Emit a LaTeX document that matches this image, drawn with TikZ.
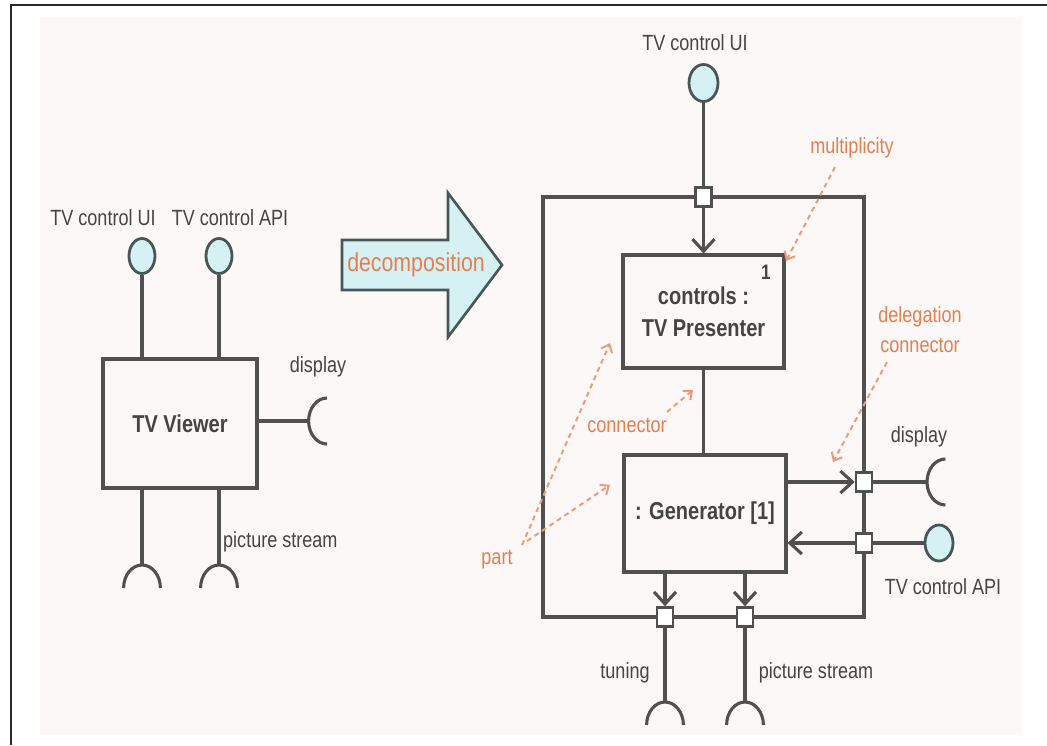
\documentclass[tikz,border=0pt]{standalone}
\usepackage{fontspec}
\setmainfont{Liberation Sans}[FakeStretch=0.82]
\usetikzlibrary{arrows.meta,shapes.geometric}
\definecolor{bgc}{RGB}{252,248,247}
\definecolor{linec}{RGB}{80,80,80}
\definecolor{textc}{RGB}{68,68,68}
\definecolor{cyanc}{RGB}{214,241,243}
\definecolor{circc}{RGB}{72,86,88}
\definecolor{orc}{RGB}{229,127,80}
\definecolor{ordash}{RGB}{238,155,120}
\definecolor{framec}{RGB}{40,40,40}
\begin{document}
\begin{tikzpicture}[x=1pt,y=-1pt,
  conn/.style={draw=linec, line width=3.1pt},
  tipv/.style={-{Straight Barb[length=12pt,width=22pt]}},
  partbox/.style={draw=linec, line width=3.1pt, rectangle, inner sep=0pt, text=textc,
    font=\bfseries\fontsize{24.4}{32}\selectfont, align=center},
  lolli/.style={ellipse, draw=circc, fill=cyanc, line width=2.8pt, minimum width=28pt,
    minimum height=36pt, inner sep=0pt},
  port/.style={rectangle, draw=linec, fill=white, line width=2.6pt, minimum width=16pt,
    minimum height=19pt, inner sep=0pt},
  lbl/.style={text=textc, font=\fontsize{22}{26}\selectfont, inner sep=0pt},
  ann/.style={text=orc, font=\fontsize{22}{30}\selectfont, inner sep=0pt, align=center},
  annline/.style={draw=ordash, line width=2pt, dash pattern=on 5pt off 4pt,
    -{Straight Barb[length=7pt,width=12pt]}},
]
\useasboundingbox (0,0) rectangle (1047,745);
% background and frame
\fill[bgc] (40,17) rectangle (1022,735);
\draw[framec, line width=1.6pt] (1047,5) -- (11,5) -- (11,745);

% ---------------- left: TV Viewer ----------------
\node[lbl] (lUI) at (103,218) {TV control UI};
\node[lbl] (lAPI) at (230,218) {TV control API};
\node[lolli, minimum width=26pt, minimum height=35pt] (c1) at (142,256) {};
\node[lolli, minimum width=26pt, minimum height=35pt] (c2) at (219,256) {};
\node[partbox, minimum width=154pt, minimum height=129pt] (viewer) at (180,423.5) {TV Viewer};
\draw[conn] (c1.south) -- (c1.south |- viewer.north);
\draw[conn] (c2.south) -- (c2.south |- viewer.north);
\node[lbl] (lDisp) at (318,367) {display};
\coordinate (dL) at (308.6,421);
\draw[conn] (viewer.east |- dL) -- (dL);
\draw[conn] (dL) ++(18.4,23) arc[start angle=90, end angle=270, x radius=18.4, y radius=23];
\coordinate (s1) at (142,565);
\coordinate (s2) at (219,565);
\draw[conn] (viewer.south -| s1) -- (s1);
\draw[conn] (viewer.south -| s2) -- (s2);
\draw[conn] (s1) ++(-18.4,23) arc[start angle=180, end angle=360, x radius=18.4, y radius=23];
\draw[conn] (s2) ++(-18.4,23) arc[start angle=180, end angle=360, x radius=18.4, y radius=23];
\node[lbl, anchor=west] (lPS) at (223,542) {picture stream};

% ---------------- decomposition arrow ----------------
\draw[fill=cyanc, draw=circc, line width=2.6pt, line join=miter]
  (342,240) -- (448,240) -- (448,193) -- (502,265) -- (448,337) -- (448,290) -- (342,290) -- cycle;
\node[ann, font=\fontsize{26}{30}\selectfont] (decL) at (416,265) {decomposition};

% ---------------- right: decomposed ----------------
\node[lbl] (rUI) at (695,43) {TV control UI};
\node[lolli, minimum width=29pt, minimum height=37pt] (cTop) at (703.5,83) {};
\node[draw=linec, line width=3.1pt, rectangle, minimum width=321pt, minimum height=420pt, inner sep=0pt] (outer) at (703.5,407) {};
\node[partbox, minimum width=161pt, minimum height=113pt] (pres) at (703.5,311.5) {controls :\\TV Presenter};
\node[text=textc, font=\bfseries\fontsize{21}{24}\selectfont, inner sep=0pt] (mult) at (766,272) {1};
\node[partbox, minimum width=162pt, minimum height=117pt] (gen) at (705,513.5) {: Generator [1]};

\node[port] (pTop) at (703.5,197) {};
\node[port] (pDisp) at (864,482) {};
\node[port] (pApi) at (864,543) {};
\node[port] (pTun) at (665,617) {};
\node[port] (pPic) at (745,617) {};

\draw[conn] (cTop.south) -- (pTop.north);
\draw[conn, tipv] (pTop.south) -- (pres.north);
\draw[conn] (pres.south) -- (pres.south |- gen.north);
\draw[conn, tipv] (gen.east |- pDisp) -- (pDisp.west);
\draw[conn, tipv] (pApi.west) -- (gen.east |- pApi);
\draw[conn, tipv] (gen.south -| pTun) -- (pTun.north);
\draw[conn, tipv] (gen.south -| pPic) -- (pPic.north);

% display socket
\coordinate (dR) at (927,482);
\draw[conn] (pDisp.east) -- (dR);
\draw[conn] (dR) ++(18.4,23) arc[start angle=90, end angle=270, x radius=18.4, y radius=23];
\node[lbl] (rDisp) at (919,437) {display};
% API lollipop
\node[lolli] (cApi) at (939,543) {};
\draw[conn] (pApi.east) -- (cApi.west);
\node[lbl] (rAPI) at (943,587) {TV control API};
% bottom sockets
\coordinate (tS) at (665,702);
\coordinate (pS) at (745,702);
\draw[conn] (pTun.south) -- (tS);
\draw[conn] (pPic.south) -- (pS);
\draw[conn] (tS) ++(-18.4,23) arc[start angle=180, end angle=360, x radius=18.4, y radius=23];
\draw[conn] (pS) ++(-18.4,23) arc[start angle=180, end angle=360, x radius=18.4, y radius=23];
\node[lbl] (rTun) at (625,673) {tuning};
\node[lbl] (rPS) at (816,673) {picture stream};

% ---------------- annotations ----------------
\node[ann] (multL) at (852,148) {multiplicity};
\coordinate (multS) at (835,167);
\coordinate (multE) at (786,261);
\draw[annline] (multS) -- (multE);

\node[ann] (delL) at (920,330) {delegation\\connector};
\coordinate (delS) at (887,362);
\coordinate (delE) at (833,462);
\draw[annline] (delS) -- (delE);

\node[ann] (conL) at (627,425) {connector};
\coordinate (conS) at (667,412);
\coordinate (conE) at (693,390);
\draw[annline] (conS) -- (conE);

\node[ann] (partL) at (497,560) {part};
\coordinate (partS1) at (522,545);
\coordinate (partS2) at (527,541);
\coordinate (partE1) at (610,343);
\coordinate (partE2) at (610,485);
\draw[annline] (partS1) -- (partE1);
\draw[annline] (partS2) -- (partE2);
\end{tikzpicture}
\end{document}
